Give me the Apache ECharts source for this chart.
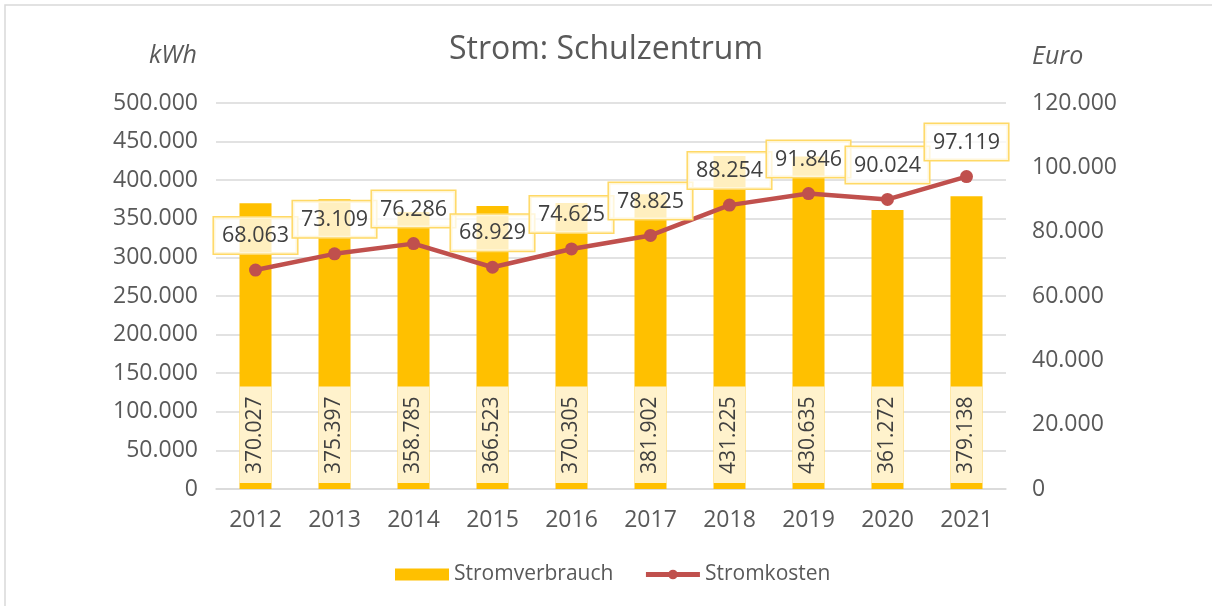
<!DOCTYPE html>
<html>
<head>
<meta charset="utf-8">
<script src="https://cdn.jsdelivr.net/npm/echarts@6/dist/echarts.min.js"></script>
<style>
  html, body { margin: 0; padding: 0; background: #fff; }
  #chart { width: 1212px; height: 606px; }
</style>
</head>
<body>
<div id="chart"></div>
<script>
var years = ['2012', '2013', '2014', '2015', '2016', '2017', '2018', '2019', '2020', '2021'];
var verbrauch = [370027, 375397, 358785, 366523, 370305, 381902, 431225, 430635, 361272, 379138];
var kosten = [68063, 73109, 76286, 68929, 74625, 78825, 88254, 91846, 90024, 97119];

var FONT = '"Open Sans", sans-serif';

// Zahlen mit deutschem Tausenderpunkt
function fmt(v) {
    return String(Math.round(v)).replace(/\B(?=(\d{3})+(?!\d))/g, '.');
}

var chart = echarts.init(document.getElementById('chart'));
var options = {
    backgroundColor: '#fff',
    animation: false,
    textStyle: { fontFamily: FONT },
    title: {
        text: 'Strom: Schulzentrum',
        left: 'center',
        top: 29,
        textStyle: { fontFamily: FONT, fontSize: 32, fontWeight: 'normal', color: '#595959' }
    },
    graphic: [
        {
            type: 'rect',
            shape: { x: 5, y: 5, width: 1230, height: 630 },
            style: { fill: 'none', stroke: '#d9d9d9', lineWidth: 1.5 },
            silent: true
        },
        {
            type: 'text', left: 149, top: 43,
            style: { text: 'kWh', fontFamily: FONT, fontStyle: 'italic', fontSize: 25, fill: '#595959' }
        },
        {
            type: 'text', left: 1032, top: 44,
            style: { text: 'Euro', fontFamily: FONT, fontStyle: 'italic', fontSize: 25, fill: '#595959' }
        }
    ],
    legend: {
        bottom: 16,
        left: 390,
        itemWidth: 54,
        itemHeight: 12,
        itemGap: 30,
        textStyle: { fontFamily: FONT, fontSize: 21, color: '#595959' },
        data: [
            { name: 'Stromverbrauch', icon: 'rect' },
            { name: 'Stromkosten', lineStyle: { width: 5 } }
        ]
    },
    grid: { left: 216, right: 206, top: 103, bottom: 117 },
    xAxis: {
        type: 'category',
        data: years,
        axisLine: { lineStyle: { color: '#d9d9d9', width: 1.5 } },
        axisTick: { show: false },
        axisLabel: { fontFamily: FONT, fontSize: 23, color: '#595959', margin: 20 }
    },
    yAxis: [{
        type: 'value',
        min: 0, max: 500000, interval: 50000,
        axisLine: { show: false },
        axisTick: { show: false },
        splitLine: { lineStyle: { color: '#d9d9d9', width: 1.5 } },
        axisLabel: { fontFamily: FONT, fontSize: 23, color: '#595959', margin: 18, formatter: fmt }
    }, {
        type: 'value',
        min: 0, max: 120000, interval: 20000,
        axisLine: { show: false },
        axisTick: { show: false },
        splitLine: { show: false },
        axisLabel: { fontFamily: FONT, fontSize: 23, color: '#595959', margin: 26, formatter: fmt }
    }],
    series: [
        {
            name: 'Stromverbrauch',
            type: 'bar',
            data: verbrauch,
            barWidth: 32,
            itemStyle: { color: '#FFC000' },
            label: {
                show: true,
                position: 'insideBottom',
                distance: 6,
                rotate: 90,
                align: 'left',
                verticalAlign: 'middle',
                fontFamily: FONT,
                fontSize: 21,
                color: '#404040',
                lineHeight: 22,
                backgroundColor: '#FFF2CC',
                padding: [5, 10, 5, 9],
                formatter: function (p) { return fmt(p.value); }
            },
            z: 2
        },
        {
            name: 'Stromkosten',
            type: 'line',
            yAxisIndex: 1,
            data: kosten,
            symbol: 'circle',
            symbolSize: 13,
            lineStyle: { color: '#C0504D', width: 4.5 },
            itemStyle: { color: '#C0504D' },
            label: {
                show: true,
                position: 'top',
                distance: 10,
                fontFamily: FONT,
                fontSize: 21.5,
                color: '#404040',
                lineHeight: 23,
                backgroundColor: 'rgba(255,255,255,0.75)',
                borderColor: '#FFD966',
                borderWidth: 1.5,
                padding: [7, 8, 6, 8],
                formatter: function (p) { return fmt(p.value); }
            },
            z: 3
        }
    ]
};
chart.setOption(options);
</script>
</body>
</html>
